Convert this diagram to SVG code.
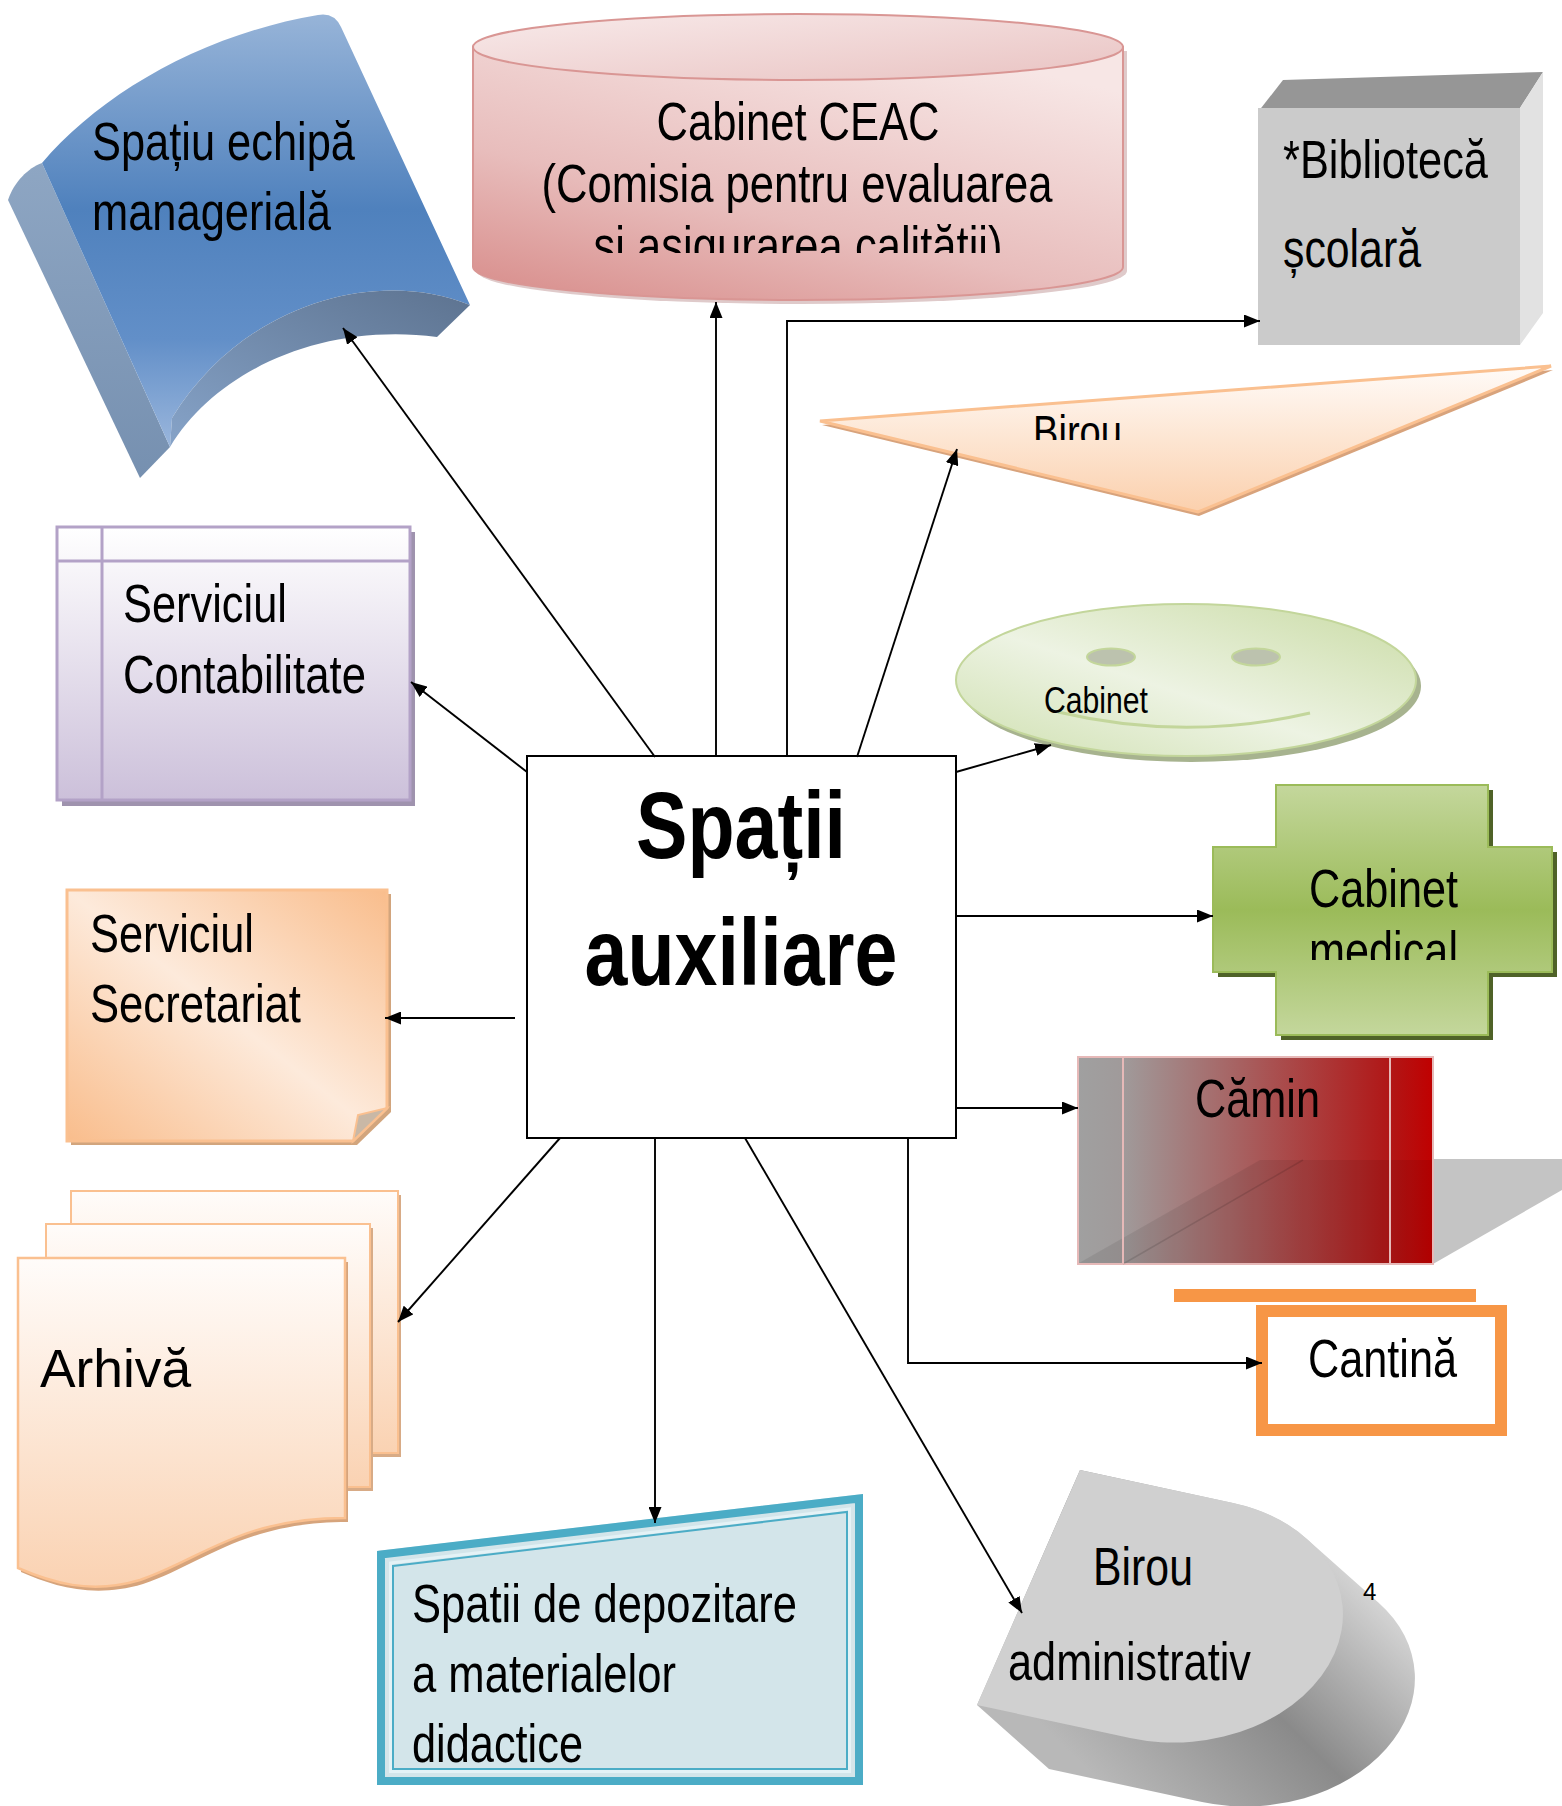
<svg xmlns="http://www.w3.org/2000/svg" width="1562" height="1806" viewBox="0 0 1562 1806">
<defs>
<style>
.t{font-family:'Liberation Sans Narrow','Arial Narrow','Liberation Sans',Arial,sans-serif;font-size:53.33px;fill:#000}
.c{text-anchor:middle}
.b{font-weight:bold;font-size:94px}
.sm{font-size:37px}
.n{font-family:'Liberation Sans',Arial,sans-serif;font-size:24px;fill:#000}
.conn{fill:none;stroke:#000;stroke-width:1.9}
</style>
<marker id="ah" markerUnits="userSpaceOnUse" viewBox="0 0 16 13" markerWidth="16" markerHeight="13" refX="16" refY="6.5" orient="auto"><path d="M0,0 L16,6.5 L0,13 Z" fill="#000"/></marker>
<linearGradient id="gBlue" x1="0" y1="0" x2="0" y2="1"><stop offset="0" stop-color="#97b4d8"/><stop offset="0.45" stop-color="#4f81bd"/><stop offset="0.75" stop-color="#628fc8"/><stop offset="1" stop-color="#9ab6dc"/></linearGradient>
<linearGradient id="gBlueSide" x1="0" y1="0" x2="0" y2="1"><stop offset="0" stop-color="#8ea6c3"/><stop offset="1" stop-color="#7690b0"/></linearGradient>
<linearGradient id="gBand" x1="1" y1="0" x2="0" y2="1"><stop offset="0" stop-color="#5d7390"/><stop offset="1" stop-color="#86a3c8"/></linearGradient>
<linearGradient id="gPink" x1="0.7" y1="0" x2="0.1" y2="1"><stop offset="0" stop-color="#f7e6e5"/><stop offset="0.6" stop-color="#e8bdbc"/><stop offset="1" stop-color="#d9908e"/></linearGradient>
<linearGradient id="gPinkTop" x1="0" y1="0" x2="1" y2="1"><stop offset="0" stop-color="#f8eaea"/><stop offset="1" stop-color="#e9c3c2"/></linearGradient>
<linearGradient id="gTri" x1="0" y1="0" x2="0" y2="1"><stop offset="0" stop-color="#fffbf8"/><stop offset="1" stop-color="#fbd0ad"/></linearGradient>
<linearGradient id="gEll" x1="0" y1="1" x2="1" y2="0"><stop offset="0" stop-color="#cfe0b0"/><stop offset="0.45" stop-color="#edf3e3"/><stop offset="1" stop-color="#c9dba4"/></linearGradient>
<linearGradient id="gLav" x1="0" y1="0" x2="0" y2="1"><stop offset="0" stop-color="#ffffff"/><stop offset="1" stop-color="#ccc0da"/></linearGradient>
<linearGradient id="gSec" x1="0" y1="1" x2="1" y2="0"><stop offset="0" stop-color="#f9bd8c"/><stop offset="0.5" stop-color="#fdeadb"/><stop offset="1" stop-color="#f9bd8c"/></linearGradient>
<linearGradient id="gMed" x1="0" y1="0" x2="0" y2="1"><stop offset="0" stop-color="#c4d79c"/><stop offset="0.5" stop-color="#9bbb59"/><stop offset="1" stop-color="#c4d79c"/></linearGradient>
<linearGradient id="gCam" x1="0" y1="0" x2="1" y2="0"><stop offset="0" stop-color="#a0a0a0"/><stop offset="0.13" stop-color="#a09a9a"/><stop offset="0.87" stop-color="#b01818"/><stop offset="1" stop-color="#c00000"/></linearGradient>
<linearGradient id="gDoc" x1="0" y1="0" x2="0" y2="1"><stop offset="0" stop-color="#fffcfa"/><stop offset="1" stop-color="#fad2b2"/></linearGradient>
<linearGradient id="gExt" x1="1" y1="0.15" x2="0.35" y2="1"><stop offset="0" stop-color="#f0f0f0"/><stop offset="0.55" stop-color="#8a8a8a"/><stop offset="1" stop-color="#b8b8b8"/></linearGradient>
<clipPath id="clipCeac"><rect x="470" y="0" width="660" height="253"/></clipPath>
<clipPath id="clipBirou"><rect x="800" y="350" width="500" height="90"/></clipPath>
<clipPath id="clipMed"><rect x="1200" y="780" width="360" height="180"/></clipPath>
</defs>
<rect width="1562" height="1806" fill="#ffffff"/>

<g id="node-echipa">
<path d="M8,200 C14,182 28,168 42,163 L170,447 L140,478 Z" fill="url(#gBlueSide)"/>
<path d="M42,163 C100,95 200,35 318,15 Q334,12 341,27 L470,305 C380,268 245,300 172,418 L170,447 Z" fill="url(#gBlue)"/>
<path d="M470,305 C380,268 245,300 172,418 L170,447 C215,372 320,322 437,337 Z" fill="url(#gBand)"/>
<text class="t" x="92" y="160" textLength="263" lengthAdjust="spacingAndGlyphs">Spațiu echipă</text>
<text class="t" x="92" y="230" textLength="239" lengthAdjust="spacingAndGlyphs">managerială</text>
</g>

<g id="node-ceac">
<path d="M477,51 L477,271 A325,33 0 0 0 1127,271 L1127,51 Z" fill="#b98a89" opacity="0.45"/>
<path d="M473,47 L473,267 A325,33 0 0 0 1123,267 L1123,47 Z" fill="url(#gPink)" stroke="#d99694" stroke-width="2"/>
<ellipse cx="798" cy="47" rx="325" ry="33" fill="url(#gPinkTop)" stroke="#d99694" stroke-width="2"/>
<g clip-path="url(#clipCeac)">
<text class="t c" x="798" y="140" textLength="283" lengthAdjust="spacingAndGlyphs">Cabinet CEAC</text>
<text class="t c" x="797" y="202" textLength="511" lengthAdjust="spacingAndGlyphs">(Comisia pentru evaluarea</text>
<text class="t c" x="798" y="264" textLength="409" lengthAdjust="spacingAndGlyphs">și asigurarea calității)</text>
</g>
</g>

<g id="node-biblioteca">
<polygon points="1258,112 1283,80 1543,72 1520,108" fill="#969696"/>
<polygon points="1520,108 1543,72 1543,313 1520,345" fill="#e2e2e2"/>
<rect x="1258" y="108" width="262" height="237" fill="#cbcbcb"/>
<text class="t" x="1283" y="178" textLength="205" lengthAdjust="spacingAndGlyphs">*Bibliotecă</text>
<text class="t" x="1283" y="267" textLength="138" lengthAdjust="spacingAndGlyphs">școlară</text>
</g>

<g id="node-birou-tri">
<polygon points="822,425 1553,370 1199,516" fill="#d8a37c"/>
<polygon points="820,421 1551,366 1198,512" fill="url(#gTri)" stroke="#fac090" stroke-width="3"/>
<g clip-path="url(#clipBirou)"><text class="t" x="1033" y="448" style="font-size:46.7px" textLength="89" lengthAdjust="spacingAndGlyphs">Birou</text></g>
</g>

<g id="node-cabinet-ell">
<ellipse cx="1191" cy="686" rx="230" ry="76" fill="#a7b38f"/>
<ellipse cx="1186" cy="680" rx="230" ry="76" fill="url(#gEll)" stroke="#c3d69b" stroke-width="2"/>
<ellipse cx="1111" cy="657" rx="24" ry="8.5" fill="#bcc2ae" stroke="#c3d69b" stroke-width="2"/>
<ellipse cx="1256" cy="657" rx="24" ry="8.5" fill="#bcc2ae" stroke="#c3d69b" stroke-width="2"/>
<path d="M1058,712 Q1185,742 1310,713" fill="none" stroke="#c3d69b" stroke-width="3"/>
<text class="t sm" x="1044" y="713" textLength="104" lengthAdjust="spacingAndGlyphs">Cabinet</text>
</g>

<g id="node-contabilitate">
<rect x="62" y="532" width="353" height="274" fill="#9f93ae"/>
<rect x="57" y="527" width="353" height="273" fill="url(#gLav)" stroke="#b3a2c7" stroke-width="3"/>
<line x1="102" y1="527" x2="102" y2="800" stroke="#b3a2c7" stroke-width="3"/>
<line x1="57" y1="561" x2="410" y2="561" stroke="#b3a2c7" stroke-width="3"/>
<text class="t" x="123" y="622" textLength="164" lengthAdjust="spacingAndGlyphs">Serviciul</text>
<text class="t" x="123" y="693" textLength="243" lengthAdjust="spacingAndGlyphs">Contabilitate</text>
</g>

<g id="node-secretariat">
<path d="M71,894 L391,894 L391,1112 L357,1145 L71,1145 Z" fill="#d2a57d"/>
<path d="M67,890 L387,890 L387,1108 L353,1141 L67,1141 Z" fill="url(#gSec)" stroke="#fac090" stroke-width="3"/>
<polygon points="387,1108 353,1141 358,1115" fill="#c9b8a6" stroke="#fac090" stroke-width="2"/>
<text class="t" x="90" y="952" textLength="164" lengthAdjust="spacingAndGlyphs">Serviciul</text>
<text class="t" x="90" y="1022" textLength="211" lengthAdjust="spacingAndGlyphs">Secretariat</text>
</g>

<g id="node-center">
<rect x="527" y="756" width="429" height="382" fill="#ffffff" stroke="#000" stroke-width="2"/>
<text class="t c b" x="741" y="858" textLength="210" lengthAdjust="spacingAndGlyphs">Spații</text>
<text class="t c b" x="741" y="985" textLength="313" lengthAdjust="spacingAndGlyphs">auxiliare</text>
</g>

<g id="node-medical">
<polygon points="1281,790 1493,790 1493,852 1557,852 1557,977 1493,977 1493,1040 1281,1040 1281,977 1218,977 1218,852 1281,852" fill="#4f6228"/>
<polygon points="1276,785 1488,785 1488,847 1552,847 1552,972 1488,972 1488,1035 1276,1035 1276,972 1213,972 1213,847 1276,847" fill="url(#gMed)" stroke="#9bbb59" stroke-width="2"/>
<text class="t" x="1309" y="907" textLength="149" lengthAdjust="spacingAndGlyphs">Cabinet</text>
<g clip-path="url(#clipMed)"><text class="t" x="1309" y="969" textLength="149" lengthAdjust="spacingAndGlyphs">medical</text></g>
</g>

<g id="node-camin">
<polygon points="1433,1159 1562,1159 1562,1190 1433,1264" fill="#c4c4c4"/>
<rect x="1078" y="1057" width="355" height="207" fill="url(#gCam)" stroke="#e6b9b8" stroke-width="2"/>
<polygon points="1079,1263 1260,1160 1432,1160 1432,1263" fill="#000" opacity="0.08"/>
<line x1="1123" y1="1264" x2="1303" y2="1160" stroke="#000" stroke-opacity="0.12" stroke-width="1.5"/>
<line x1="1123" y1="1057" x2="1123" y2="1264" stroke="#e6b9b8" stroke-width="2"/>
<line x1="1390" y1="1057" x2="1390" y2="1264" stroke="#e6b9b8" stroke-width="2"/>
<text class="t" x="1195" y="1117" textLength="125" lengthAdjust="spacingAndGlyphs">Cămin</text>
</g>

<g id="node-cantina">
<rect x="1174" y="1289" width="302" height="13" fill="#f79646"/>
<rect x="1262" y="1311" width="239" height="119" fill="#ffffff" stroke="#f79646" stroke-width="12"/>
<text class="t" x="1308" y="1377" textLength="149" lengthAdjust="spacingAndGlyphs">Cantină</text>
</g>

<g id="node-arhiva">
<rect x="74" y="1195" width="327" height="262" fill="#d8ab86"/>
<rect x="71" y="1191" width="327" height="262" fill="url(#gDoc)" stroke="#fac090" stroke-width="2"/>
<rect x="49" y="1228" width="324" height="263" fill="#d8ab86"/>
<rect x="46" y="1224" width="324" height="263" fill="url(#gDoc)" stroke="#fac090" stroke-width="2"/>
<path d="M21,1262 L348,1262 L348,1522 C243,1522 203,1564 143,1584 C93,1599 53,1586 21,1572 Z" fill="#d6a47c"/>
<path d="M18,1258 L345,1258 L345,1518 C240,1518 200,1560 140,1580 C90,1595 50,1582 18,1568 Z" fill="url(#gDoc)" stroke="#fac090" stroke-width="2.5"/>
<text class="t" x="40" y="1387" style="font-family:'Liberation Sans',Arial,sans-serif">Arhivă</text>
</g>

<g id="node-depozitare">
<polygon points="377,1551 863,1494 863,1785 377,1785" fill="#d3e5ea"/>
<polygon points="381,1554.5 859,1498.5 859,1781 381,1781" fill="none" stroke="#4bacc6" stroke-width="8"/>
<polygon points="390.5,1563 849.5,1509 849.5,1771.5 390.5,1771.5" fill="none" stroke="#e4f2f6" stroke-width="3"/>
<polygon points="393,1566 847,1512 847,1769 393,1769" fill="none" stroke="#4bacc6" stroke-width="2"/>
<text class="t" x="412" y="1622" textLength="385" lengthAdjust="spacingAndGlyphs">Spatii de depozitare</text>
<text class="t" x="412" y="1692" textLength="264" lengthAdjust="spacingAndGlyphs">a materialelor</text>
<text class="t" x="412" y="1762" textLength="171" lengthAdjust="spacingAndGlyphs">didactice</text>
</g>

<g id="node-administrativ">
<g transform="matrix(153,33,-103,235,1080,1470)">
<path d="M0,1 L0,0 L1,0 A1,0.5 0 0 1 1.533,0.077 L2.1305,0.2654 A1,0.5 0 0 1 1.5975,1.1884 L0.5975,1.1884 Z" fill="url(#gExt)"/>
<path d="M0,0 L1,0 A1,0.5 0 0 1 1,1 L0,1 Z" fill="#d0d0d0"/>
</g>
<text class="t" x="1093" y="1585" textLength="100" lengthAdjust="spacingAndGlyphs">Birou</text>
<text class="t" x="1008" y="1680" textLength="243" lengthAdjust="spacingAndGlyphs">administrativ</text>
<text class="n" x="1363" y="1600">4</text>
</g>

<g id="connectors">
<path class="conn" d="M655,757 L343,328" marker-end="url(#ah)"/>
<path class="conn" d="M716,757 L716,302" marker-end="url(#ah)"/>
<path class="conn" d="M787,757 L787,321 L1260,321" marker-end="url(#ah)"/>
<path class="conn" d="M857,757 L957,449" marker-end="url(#ah)"/>
<path class="conn" d="M956,772 L1051,745" marker-end="url(#ah)"/>
<path class="conn" d="M956,916 L1213,916" marker-end="url(#ah)"/>
<path class="conn" d="M956,1108 L1078,1108" marker-end="url(#ah)"/>
<path class="conn" d="M908,1138 L908,1363 L1262,1363" marker-end="url(#ah)"/>
<path class="conn" d="M745,1138 L1022,1613" marker-end="url(#ah)"/>
<path class="conn" d="M655,1138 L655,1523" marker-end="url(#ah)"/>
<path class="conn" d="M560,1138 L398,1322" marker-end="url(#ah)"/>
<path class="conn" d="M515,1018 L385,1018" marker-end="url(#ah)"/>
<path class="conn" d="M527,772 L411,682" marker-end="url(#ah)"/>
</g>
</svg>
